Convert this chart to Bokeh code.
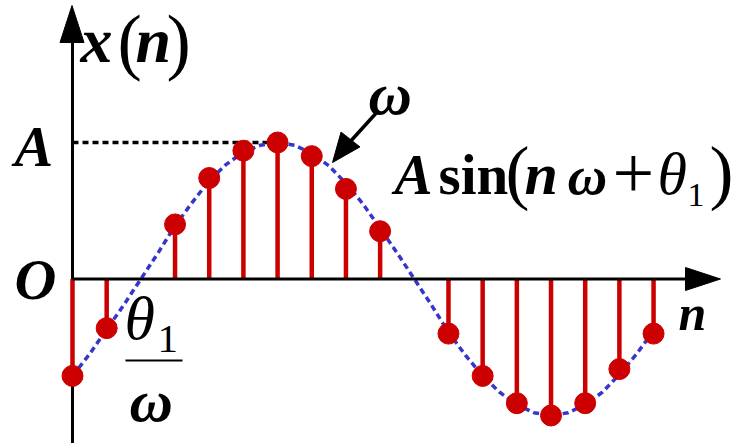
from bokeh.plotting import figure
from bokeh.models import Range1d, Label
from bokeh.embed import file_html
from bokeh.resources import INLINE

# Sampled sequence x(n) = A sin(n*w + theta1), amplitude A = 1
n_idx = [0, 1, 3, 4, 5, 6, 7, 8, 9, 11, 12, 13, 14, 15, 16, 17]
x_n = [-0.71, -0.36, 0.40, 0.74, 0.94, 1.0, 0.90, 0.66, 0.35,
       -0.40, -0.71, -0.91, -1.0, -0.91, -0.66, -0.40]

# Continuous envelope, traced at half-sample steps
env_n = [0, 0.5, 1, 1.5, 2, 2.5, 3, 3.5, 4, 4.5, 5, 5.5, 6, 6.5, 7, 7.5, 8, 8.5,
         9, 9.5, 10, 10.5, 11, 11.5, 12, 12.5, 13, 13.5, 14, 14.5, 15, 15.5,
         16, 16.5, 17]
env_y = [-0.71, -0.55, -0.37, -0.19, 0.0, 0.19, 0.39, 0.56, 0.72, 0.84, 0.93,
         0.98, 1.0, 0.98, 0.92, 0.83, 0.70, 0.55, 0.37, 0.19, 0.0, -0.19, -0.39,
         -0.56, -0.71, -0.83, -0.92, -0.98, -1.0, -0.98, -0.92, -0.83, -0.70,
         -0.55, -0.38]

amp = 1.0  # level marked "A"

W, H = 741, 443
X0_PX, PX_PER_N = 72.0, 34.18     # screen x of n = 0, pixels per sample
Y0_PX, PX_PER_Y = 278.5, 136.5    # screen y of x = 0, pixels per unit amplitude

RED = "#cc0000"
BLUE = "#3636cc"
SERIF = "Liberation Serif"
BASELINE_SHIFT = 0.36   # label baseline correction, in em


def sx(px):
    return (px - X0_PX) / PX_PER_N


def sy(py):
    return (Y0_PX - py) / PX_PER_Y


p = figure(width=W, height=H,
           x_range=Range1d(sx(0), sx(W)), y_range=Range1d(sy(H), sy(0)),
           output_backend="svg", toolbar_location=None, min_border=0,
           x_axis_location=None, y_axis_location=None,
           outline_line_color=None, background_fill_color="white")
p.xgrid.visible = False
p.ygrid.visible = False


def head(tip, base, half_w):
    """Triangle arrow head, given in screen pixels, returned in data units."""
    tx, ty = tip
    bx, by = base
    dx, dy = tx - bx, ty - by
    ln = (dx * dx + dy * dy) ** 0.5
    nx, ny = -dy / ln * half_w, dx / ln * half_w
    xs = [sx(tx), sx(bx + nx), sx(bx - nx)]
    ys = [sy(ty), sy(by + ny), sy(by - ny)]
    return xs, ys


# vertical axis
p.line([0, 0], [sy(H), sy(42)], line_color="black", line_width=3)
hx, hy = head((X0_PX - 0.5, 5), (X0_PX - 0.5, 42), 12)
p.patch(hx, hy, fill_color="black", line_color="black")

# amplitude guide at level A, up to the peak sample
peak_n = n_idx[x_n.index(max(x_n))]
p.line([0, peak_n], [amp, amp], line_color="black", line_width=3.5,
       line_dash="6 4")

# envelope
p.line(env_n, env_y, line_color=BLUE, line_width=3.5, line_dash="6 4")

# stems and sample markers
p.segment(x0=n_idx, y0=[0] * len(n_idx), x1=n_idx, y1=x_n,
          line_color=RED, line_width=4.5)
p.scatter(n_idx, x_n, size=21, fill_color=RED, line_color=RED)

# horizontal axis
p.line([0, sx(686)], [0, 0], line_color="black", line_width=3)
hx, hy = head((720, Y0_PX), (685, Y0_PX), 11.5)
p.patch(hx, hy, fill_color="black", line_color="black")

# arrow pointing at the envelope
p.line([sx(378), sx(348)], [sy(110), sy(143)], line_color="black",
       line_width=3.5)
hx, hy = head((332, 162), (350, 139), 12)
p.patch(hx, hy, fill_color="black", line_color="black")

# fraction bar of theta1 / omega
p.line([sx(125), sx(182)], [sy(360), sy(360)], line_color="black",
       line_width=2)


def label(text, x, base, size, style="bold italic"):
    y = H - base + BASELINE_SHIFT * size
    p.add_layout(Label(x=x, y=y, x_units="screen", y_units="screen",
                       text=text, text_font=SERIF,
                       text_font_size=f"{size}px", text_font_style=style,
                       text_color="black", text_align="left",
                       text_baseline="alphabetic"))


# x(n)
label("x", 80, 63, 64)
label("(", 117, 67, 73, "normal")
label("n", 135, 63, 64)
label(")", 166, 67, 73, "normal")

# axis marks
label("A", 14, 167, 58)
label("O", 14, 300, 58)
label("n", 678, 330, 50)

# theta1 / omega
label("\u03b8", 124, 340, 62, "italic")
label("1", 157, 353, 41, "normal")
label("\u03c9", 129, 422, 60, "bold italic")

# omega over the arrow
label("\u03c9", 368, 115, 60, "bold italic")

# A sin(n omega + theta1)
label("A", 394, 195, 57)
label("sin", 438, 195, 57, "bold")
label("(", 505, 197, 72, "normal")
label("n", 524, 195, 60)
label("\u03c9", 567, 195, 55, "bold italic")
label("+", 612, 200, 74, "normal")
label("\u03b8", 657, 195, 60, "italic")
label("1", 687, 207, 34, "normal")
label(")", 709, 197, 72, "normal")

open("out.html", "w").write(file_html(p, INLINE))
